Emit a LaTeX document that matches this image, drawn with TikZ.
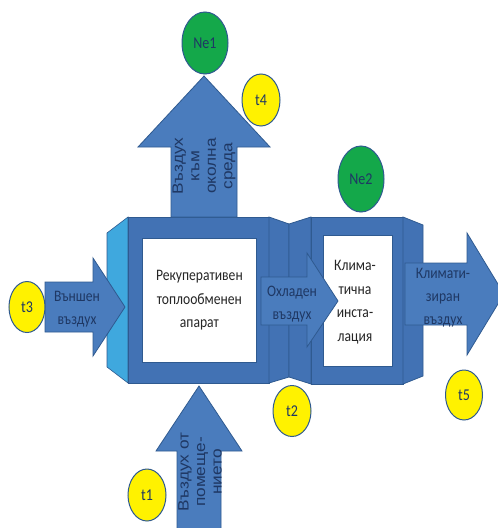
\documentclass[tikz,border=0pt]{standalone}
\usepackage{fontspec}
\setmainfont{Carlito}
\newfontfamily\calf[FakeStretch=0.85]{Carlito}
\newfontfamily\arf[FakeStretch=1.15]{Liberation Sans}
\usetikzlibrary{shapes.geometric}
\definecolor{arrowblue}{HTML}{4A7CBD}
\definecolor{boxblue}{HTML}{4272B4}
\definecolor{edgeblue}{HTML}{2F5A90}
\definecolor{lightbevel}{HTML}{3FA8DE}
\definecolor{navy}{HTML}{1F3864}
\definecolor{dark}{HTML}{262626}
\definecolor{ygreen}{HTML}{14A84A}
\definecolor{yel}{HTML}{FFF200}
\tikzset{
  blockarrow/.style={fill=arrowblue,draw=edgeblue,line width=0.8pt,line join=miter},
  boxpart/.style={fill=boxblue,draw=edgeblue,line width=0.8pt},
  bevel/.style={fill=boxblue,draw=edgeblue,line width=0.8pt},
  lbevel/.style={fill=lightbevel,draw=edgeblue,line width=0.6pt},
  whitebox/.style={fill=white,draw=edgeblue,line width=0.8pt},
  sensor/.style={ellipse,fill=yel,draw=edgeblue,line width=1pt,text=navy,font=\calf\fontsize{16.5}{18}\selectfont,inner sep=0pt},
  meter/.style={ellipse,fill=ygreen,draw=edgeblue,line width=1pt,text=navy,font=\calf\fontsize{16.5}{18}\selectfont,inner sep=0pt},
  boxtext/.style={align=center,text=dark,font=\calf\fontsize{16}{23.5}\selectfont},
  arrtext/.style={align=center,text=navy,font=\calf\fontsize{16}{23}\selectfont},
  rottext/.style={align=center,text=navy,rotate=90,font=\arf\fontsize{15}{16.5}\selectfont},
}
\begin{document}
\begin{tikzpicture}[x=1pt,y=-1pt]
\clip (0,0) rectangle (498,528);
\fill[white] (0,0) rectangle (498,528);
% recuperator housing
\draw[lbevel] (128,217) -- (107,233) -- (107,367) -- (128,383) -- cycle;
\draw[boxpart] (128,217) rectangle (269,383);
\draw[bevel] (269,217) -- (289,224) -- (289,377) -- (269,383) -- cycle;
\node[whitebox,minimum width=114pt,minimum height=124pt,anchor=north west,inner sep=0pt] (rec) at (142,238) {};
% climate unit housing
\draw[bevel] (289,224) -- (311,217) -- (311,384) -- (289,377) -- cycle;
\draw[boxpart] (311,217) rectangle (403,384);
\draw[bevel] (403,217) -- (423,225) -- (423,376) -- (403,384) -- cycle;
\node[whitebox,minimum width=69pt,minimum height=131pt,anchor=north west,inner sep=0pt] (clim) at (323,235) {};
% arrows
\draw[blockarrow] (171,217) -- (171,147) -- (138,147) -- (204,76) -- (270,147) -- (237,147) -- (237,217) -- cycle;
\draw[blockarrow] (45,282) -- (93,282) -- (93,258) -- (125,307) -- (93,356) -- (93,332) -- (45,332) -- cycle;
\draw[blockarrow] (177,540) -- (177,451) -- (156,451) -- (199,386) -- (242,451) -- (221,451) -- (221,540) -- cycle;
\draw[blockarrow] (261,277) -- (307,277) -- (307,253) -- (338,301) -- (307,347) -- (307,325) -- (261,325) -- cycle;
\draw[blockarrow] (405,263) -- (467,263) -- (467,233) -- (504,294) -- (467,355) -- (467,325) -- (405,325) -- cycle;
% texts
\node[boxtext] (rect) at (rec.center) {Рекуперативен\\топлообменен\\апарат};
\node[boxtext] (climt) at (355,302) {Клима-\\тична\\инста-\\лация};
\node[arrtext] (outside) at (77,309) {Външен\\въздух};
\node[arrtext] (cooled) at (292,304) {Охладен\\въздух};
\node[arrtext] (condit) at (443,298) {Климати-\\зиран\\въздух};
\node[rottext] (exhaust) at (204,166) {Въздух\\към\\околна\\среда};
\node[rottext] (room) at (200,472) {Въздух от\\помеще-\\нието};
% sensors
\node[meter,minimum width=46pt,minimum height=62pt] (ne1) at (205,43) {Ne1};
\node[meter,minimum width=46pt,minimum height=66pt] (ne2) at (361,179) {Ne2};
\node[sensor,minimum width=38pt,minimum height=52pt] (t4) at (261,100) {t4};
\node[sensor,minimum width=36pt,minimum height=51pt] (t3) at (27,307) {t3};
\node[sensor,minimum width=38pt,minimum height=51pt] (t2) at (292,411) {t2};
\node[sensor,minimum width=37pt,minimum height=50pt] (t5) at (464,395) {t5};
\node[sensor,minimum width=38pt,minimum height=52pt] (t1) at (147,495) {t1};
\end{tikzpicture}
\end{document}
